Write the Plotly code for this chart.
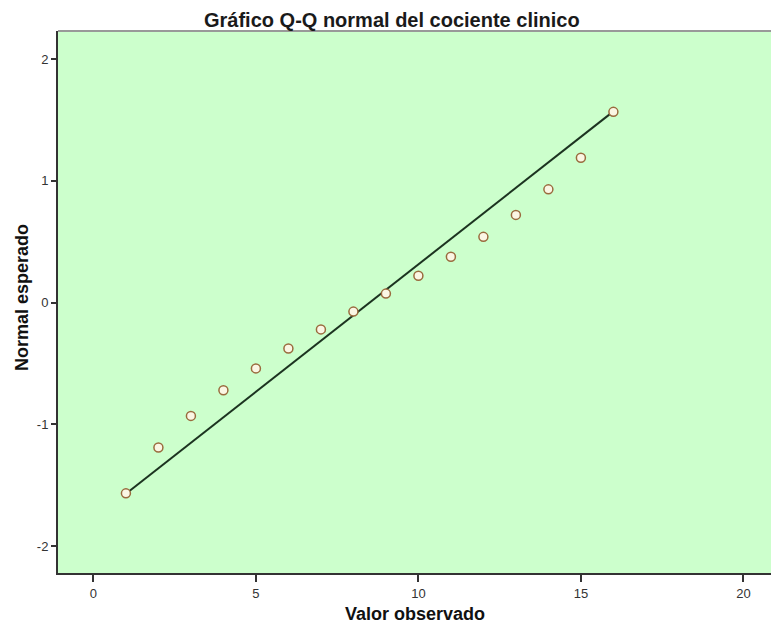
import plotly.graph_objects as go

# Observed values and expected normal quantiles
valor_observado = [1, 2, 3, 4, 5, 6, 7, 8, 9, 10, 11, 12, 13, 14, 15, 16]
normal_esperado = [-1.566, -1.19, -0.93, -0.72, -0.54, -0.377, -0.22, -0.074,
                   0.074, 0.22, 0.377, 0.54, 0.72, 0.93, 1.19, 1.566]

# Reference line endpoints
linea_x = [1, 16]
linea_y = [-1.57, 1.57]

x_ticks = [0, 5, 10, 15, 20]
y_ticks = [-2, -1, 0, 1, 2]
y_ticktext = ["-2", "-1", "0", "1", "2"]

FONT = "Liberation Sans, Arial, sans-serif"
W, H = 771, 625
ML, MR, MT, MB = 58, 0, 31, 52
PW = W - ML - MR
PH = H - MT - MB

fig = go.Figure()

fig.add_trace(go.Scatter(
    x=linea_x, y=linea_y, mode="lines",
    line=dict(color="#1c3320", width=2),
    hoverinfo="skip", showlegend=False,
))

fig.add_trace(go.Scatter(
    x=valor_observado, y=normal_esperado, mode="markers",
    marker=dict(symbol="circle", size=9, color="#fbf6e4",
                line=dict(color="#9a6b3e", width=1.5)),
    showlegend=False,
))

fig.update_layout(
    width=W, height=H, autosize=False,
    margin=dict(l=ML, r=MR, t=MT, b=MB, pad=0),
    paper_bgcolor="white",
    plot_bgcolor="#ccffcc",
    font=dict(family=FONT, color="#333333", size=13),
    xaxis=dict(
        range=[-1.09, 20.85], tickvals=x_ticks, ticks="outside", ticklen=7,
        tickwidth=1.5, tickcolor="#333333", showline=True, linecolor="#333333",
        linewidth=2, showgrid=False, zeroline=False,
        tickfont=dict(size=13, color="#333333"),
    ),
    yaxis=dict(
        range=[-2.22, 2.23], tickvals=y_ticks, ticktext=y_ticktext,
        ticks="outside", ticklen=5,
        tickwidth=1.5, tickcolor="#333333", showline=True, linecolor="#333333",
        linewidth=2, showgrid=False, zeroline=False,
        tickfont=dict(size=13, color="#333333"),
    ),
    shapes=[dict(type="line", xref="paper", yref="paper", x0=0, x1=1, y0=1, y1=1,
                 line=dict(color="#999999", width=2))],
    annotations=[
        dict(text="<b>Gráfico Q-Q normal del cociente clinico</b>",
             xref="paper", yref="paper", x=(392 - ML) / PW, y=(H - MB - 20) / PH,
             xanchor="center", yanchor="middle", showarrow=False,
             font=dict(size=20, color="#1a1a1a", family=FONT)),
        dict(text="<b>Valor observado</b>",
             xref="paper", yref="paper", x=0.5, y=(H - MB - 614) / PH,
             xanchor="center", yanchor="middle", showarrow=False,
             font=dict(size=18, color="#111111", family=FONT)),
        dict(text="<b>Normal esperado</b>", textangle=-90,
             xref="paper", yref="paper", x=(22 - ML) / PW, y=(H - MB - 298) / PH,
             xanchor="center", yanchor="middle", showarrow=False,
             font=dict(size=18, color="#111111", family=FONT)),
    ],
)

fig.write_html("out.html")
